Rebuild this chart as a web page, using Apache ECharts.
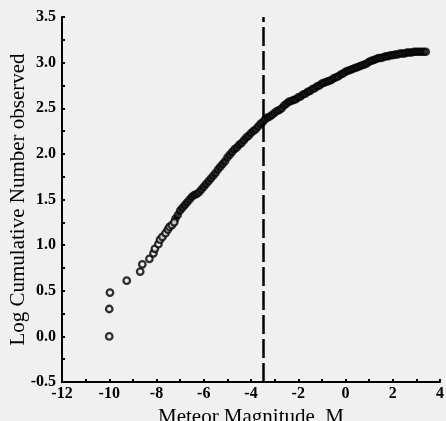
<!DOCTYPE html>
<html>
<head>
<meta charset="utf-8">
<script src="https://cdn.jsdelivr.net/npm/echarts@6/dist/echarts.min.js"></script>
<style>
html,body{margin:0;padding:0;background:#f0f0f0;}
#chart{width:446px;height:421px;}
</style>
</head>
<body>
<div id="chart"></div>
<script>
// Sparse (individually visible) points: [magnitude, log cumulative number]
const sparsePoints = [
  [-10.0, 0.00], [-10.0, 0.30], [-9.97, 0.48], [-9.26, 0.61],
  [-8.69, 0.71], [-8.60, 0.79], [-8.30, 0.85], [-8.13, 0.91],
  [-8.07, 0.96], [-7.92, 1.01], [-7.85, 1.06], [-7.75, 1.09],
  [-7.62, 1.13], [-7.52, 1.17], [-7.45, 1.20], [-7.35, 1.22], [-7.25, 1.25]
];
// Dense part of the curve: magnitudes and values
const denseMag = [
  -7.2,-7.1,-7.0,-6.9,-6.8,-6.7,-6.6,-6.5,-6.4,-6.3,-6.2,-6.1,-6.0,-5.9,-5.8,-5.7,-5.6,-5.5,-5.4,-5.3,
  -5.2,-5.1,-5.0,-4.9,-4.8,-4.7,-4.6,-4.5,-4.4,-4.3,-4.2,-4.1,-4.0,-3.9,-3.8,-3.7,-3.6,-3.5,-3.4,-3.3,
  -3.2,-3.1,-3.0,-2.9,-2.8,-2.7,-2.6,-2.5,-2.4,-2.3,-2.2,-2.1,-2.0,-1.9,-1.8,-1.7,-1.6,-1.5,-1.4,-1.3,
  -1.2,-1.1,-1.0,-0.9,-0.8,-0.7,-0.6,-0.5,-0.4,-0.3,-0.2,-0.1,0.0,0.1,0.2,0.3,0.4,0.5,0.6,0.7,
  0.8,0.9,1.0,1.1,1.2,1.3,1.4,1.5,1.6,1.7,1.8,1.9,2.0,2.1,2.2,2.3,2.4,2.5,2.6,2.7,
  2.8,2.9,3.0,3.1,3.2,3.3,3.4
];
const denseLogN = [
  1.29,1.33,1.38,1.41,1.44,1.47,1.50,1.53,1.55,1.56,1.58,1.61,1.64,1.67,1.70,1.73,1.76,1.79,1.83,1.86,
  1.89,1.92,1.96,1.99,2.02,2.05,2.07,2.10,2.12,2.15,2.18,2.20,2.23,2.25,2.27,2.30,2.33,2.35,2.38,2.40,
  2.41,2.43,2.45,2.47,2.48,2.50,2.53,2.55,2.57,2.58,2.59,2.60,2.62,2.63,2.65,2.66,2.68,2.69,2.71,2.72,
  2.74,2.75,2.77,2.78,2.79,2.80,2.81,2.83,2.84,2.85,2.87,2.88,2.90,2.91,2.92,2.93,2.94,2.95,2.96,2.97,
  2.98,2.99,3.01,3.02,3.03,3.04,3.05,3.05,3.06,3.07,3.07,3.08,3.08,3.09,3.09,3.10,3.10,3.10,3.11,3.11,
  3.11,3.12,3.12,3.12,3.12,3.12,3.12
];
const cutoffMagnitude = -3.5;
const xTicks = { min: -12, max: 4, interval: 2 };
const yTicks = { min: -0.5, max: 3.5, interval: 0.5 };
const xTitle = 'Meteor Magnitude, M';
const yTitle = 'Log Cumulative Number observed';

const densePoints = denseMag.map((m, i) => [m, denseLogN[i]]);
const BG = '#f0f0f0';
const FONT = '"Liberation Serif","DejaVu Serif",serif';

const chart = echarts.init(document.getElementById('chart'), null, {renderer: 'canvas'});
chart.setOption({
  backgroundColor: BG,
  animation: false,
  grid: { left: 62, right: 6, top: 17, bottom: 39, containLabel: false, outerBoundsMode: 'none' },
  xAxis: {
    type: 'value', min: xTicks.min, max: xTicks.max, interval: xTicks.interval,
    name: xTitle, nameLocation: 'middle', nameGap: 25, nameMoveOverlap: false,
    nameTextStyle: { fontFamily: FONT, fontSize: 21, color: '#000' },
    axisLine: { show: true, onZero: false, lineStyle: { color: '#000', width: 2 } },
    axisTick: { show: true, inside: true, length: 3, lineStyle: { color: '#000', width: 2 } },
    minorTick: { show: true, splitNumber: 2, length: 3, lineStyle: { color: '#000', width: 2 } },
    axisLabel: { fontFamily: FONT, fontSize: 16, fontWeight: 'bold', color: '#000', margin: 4 },
    splitLine: { show: false }
  },
  yAxis: {
    type: 'value', min: yTicks.min, max: yTicks.max, interval: yTicks.interval,
    name: yTitle, nameLocation: 'middle', nameGap: 33, nameMoveOverlap: false,
    nameTextStyle: { fontFamily: FONT, fontSize: 21, color: '#000' },
    axisLine: { show: true, onZero: false, lineStyle: { color: '#000', width: 2 } },
    axisTick: { show: true, inside: true, length: 3, lineStyle: { color: '#000', width: 2 } },
    minorTick: { show: true, splitNumber: 2, length: 3, lineStyle: { color: '#000', width: 2 } },
    axisLabel: { fontFamily: FONT, fontSize: 16, fontWeight: 'bold', color: '#000', margin: 6,
      formatter: v => v.toFixed(1) },
    splitLine: { show: false }
  },
  series: [
    {
      type: 'scatter', data: densePoints, symbol: 'circle', symbolSize: 4.5,
      itemStyle: { color: BG, borderColor: '#000', borderWidth: 4 }, z: 3
    },
    {
      type: 'scatter', data: sparsePoints, symbol: 'circle', symbolSize: 6.5,
      itemStyle: { color: BG, borderColor: '#000', borderWidth: 2.3 }, z: 4,
      markLine: {
        silent: true, symbol: ['none', 'none'], label: { show: false },
        lineStyle: { color: '#000', width: 2.5, type: [19, 5] },
        data: [{ xAxis: cutoffMagnitude }]
      }
    }
  ]
});
</script>
</body>
</html>
